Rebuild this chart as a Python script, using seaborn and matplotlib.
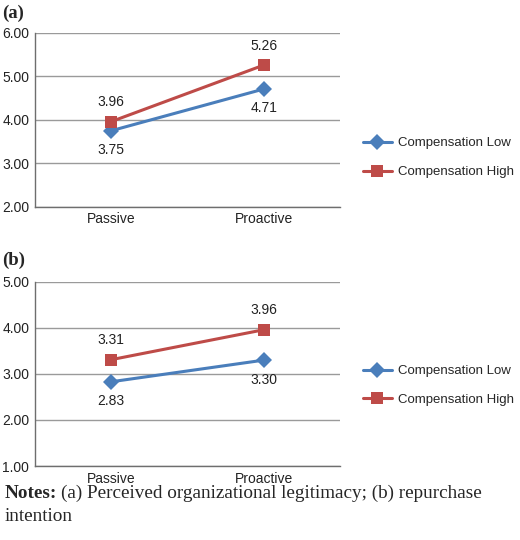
import matplotlib
matplotlib.use("Agg")
import matplotlib.pyplot as plt
import pandas as pd
import seaborn as sns

conditions = ["Passive", "Proactive"]
groups = ["Compensation Low", "Compensation High"]
legit_low = [3.75, 4.71]
legit_high = [3.96, 5.26]
repurch_low = [2.83, 3.30]
repurch_high = [3.31, 3.96]

colors = {"Compensation Low": "#4a7ebb", "Compensation High": "#be4b48"}
markers = {"Compensation Low": "D", "Compensation High": "s"}

sns.set_style("white")
plt.rcParams["font.family"] = ["Liberation Sans", "DejaVu Sans"]


def make_df(low, high):
    rows = []
    for g, vals in zip(groups, [low, high]):
        for c, v in zip(conditions, vals):
            rows.append({"cond": c, "group": g, "value": v})
    return pd.DataFrame(rows)


fig = plt.figure(figsize=(5.2, 5.4), dpi=100)
ax_a = fig.add_axes([0.067, 0.617, 0.587, 0.322])
ax_b = fig.add_axes([0.067, 0.137, 0.587, 0.341])

panels = [
    (ax_a, make_df(legit_low, legit_high), (2, 6), 0.708),
    (ax_b, make_df(repurch_low, repurch_high), (1, 5), 0.286),
]

for ax, df, ylim, lgy in panels:
    df["x"] = df["cond"].map({c: i for i, c in enumerate(conditions)})
    sns.lineplot(data=df, x="x", y="value", hue="group", style="group",
                 hue_order=groups, style_order=groups,
                 palette=colors, markers=markers, dashes=False, linewidth=2.2,
                 markersize=8, markeredgewidth=0, legend=False, ax=ax)
    for _, r in df.iterrows():
        off = -14 if r["group"] == "Compensation Low" else 14
        ax.annotate(f"{r['value']:.2f}", (r["x"], r["value"]),
                    xytext=(0, off), textcoords="offset points",
                    ha="center", va="center", fontsize=10, color="#222222")
    ax.set_xlim(-0.5, 1.5)
    ax.set_ylim(*ylim)
    ax.set_yticks(range(ylim[0], ylim[1] + 1))
    ax.set_yticklabels([f"{v:.2f}" for v in range(ylim[0], ylim[1] + 1)])
    ax.set_xticks([0, 1])
    ax.set_xticklabels(conditions)
    ax.tick_params(axis="both", length=0, labelsize=10, colors="#222222", pad=4)
    ax.set_xlabel("")
    ax.set_ylabel("")
    ax.yaxis.grid(True, color="#9a9a9a", linewidth=1)
    ax.set_axisbelow(True)
    for s in ["top", "right"]:
        ax.spines[s].set_visible(False)
    for s in ["left", "bottom"]:
        ax.spines[s].set_color("#6e6e6e")
        ax.spines[s].set_linewidth(1)
    handles = ax.lines[:2]
    ax.legend(handles, groups, loc="center left", bbox_to_anchor=(0.675, lgy),
              bbox_transform=fig.transFigure, frameon=False, fontsize=9.5,
              handlelength=2.2, labelspacing=1.25, handletextpad=0.5)

fig.text(0.004, 0.976, "(a)", family="Liberation Serif", fontweight="bold",
         fontsize=13.5, va="center")
fig.text(0.004, 0.518, "(b)", family="Liberation Serif", fontweight="bold",
         fontsize=13.5, va="center")

t1 = fig.text(0.008, 0.087, "Notes:", family="Liberation Serif",
              fontweight="bold", fontsize=13.8, va="center")
fig.canvas.draw()
bb = t1.get_window_extent().transformed(fig.transFigure.inverted())
fig.text(bb.x1 + 0.008, 0.087,
         "(a) Perceived organizational legitimacy; (b) repurchase",
         family="Liberation Serif", fontsize=13.8, va="center")
fig.text(0.008, 0.043, "intention", family="Liberation Serif",
         fontsize=13.8, va="center")

fig.savefig("out.png", dpi=100)
